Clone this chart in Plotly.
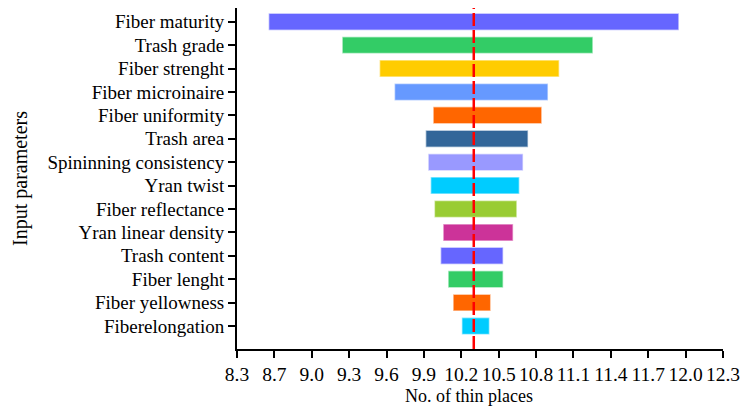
import plotly.graph_objects as go

categories = ["Fiber maturity", "Trash grade", "Fiber strenght", "Fiber microinaire",
              "Fiber uniformity", "Trash area", "Spininning consistency", "Yran twist",
              "Fiber reflectance", "Yran linear density", "Trash content", "Fiber lenght",
              "Fiber yellowness", "Fiberelongation"]
low_values = [8.66, 9.25, 9.55, 9.67, 9.98, 9.92, 9.94, 9.96, 9.99, 10.06, 10.04, 10.10, 10.14, 10.21]
high_values = [11.94, 11.25, 10.98, 10.89, 10.84, 10.73, 10.69, 10.66, 10.64, 10.61, 10.53, 10.53, 10.43, 10.42]
bar_colors = ["#6666FF", "#33CC66", "#FFCC00", "#6699FF", "#FF6600", "#336699", "#9999FF",
              "#00CCFF", "#99CC33", "#CC3399", "#6666FF", "#33CC66", "#FF6600", "#00CCFF"]
base_value = 10.3
tick_values = [8.4, 8.7, 9.0, 9.3, 9.6, 9.9, 10.2, 10.5, 10.8, 11.1, 11.4, 11.7, 12.0, 12.3]
tick_labels = ["8.3", "8.7", "9.0", "9.3", "9.6", "9.9", "10.2", "10.5", "10.8", "11.1",
               "11.4", "11.7", "12.0", "12.3"]
x_title = "No. of thin places"
y_title = "Input parameters"


def hex_rgba(h, a):
    h = h.lstrip("#")
    return "rgba(%d,%d,%d,%s)" % (int(h[0:2], 16), int(h[2:4], 16), int(h[4:6], 16), a)


widths = [h - l for l, h in zip(low_values, high_values)]

fig = go.Figure()
fig.add_trace(go.Bar(
    y=categories, x=widths, base=low_values, orientation="h",
    marker=dict(color=bar_colors,
                line=dict(color=[hex_rgba(c, 0.45) for c in bar_colors], width=1.5)),
    width=0.66, showlegend=False,
))

fig.add_shape(type="line", xref="x", yref="paper", x0=base_value, x1=base_value, y0=0, y1=1,
              line=dict(color="#FF0000", width=2.5, dash="13px,4px"), layer="above")

font_family = "Liberation Serif, Times New Roman, serif"
fig.add_annotation(text=x_title, xref="paper", yref="paper", x=0.478, y=-0.138,
                   xanchor="center", yanchor="middle", showarrow=False,
                   font=dict(family=font_family, size=18, color="black"))

fig.update_layout(
    width=748, height=413,
    margin=dict(l=237, r=19, t=8, b=64),
    paper_bgcolor="white", plot_bgcolor="white",
    font=dict(family=font_family, size=19, color="black"),
)
fig.update_xaxes(
    range=[8.4, 12.3], tickvals=tick_values, ticktext=tick_labels,
    showgrid=False, zeroline=False, showline=True, linecolor="black", linewidth=2,
    ticks="outside", ticklen=7, tickwidth=1.5, tickcolor="black",
    tickfont=dict(size=19.5),
)
fig.update_yaxes(
    categoryorder="array", categoryarray=categories,
    range=[13.98, -0.585],
    showgrid=False, zeroline=False, showline=True, linecolor="black", linewidth=2,
    ticks="outside", ticklen=7, tickwidth=1.5, tickcolor="black",
    tickfont=dict(size=19),
    title=dict(text=y_title, font=dict(size=20), standoff=14),
)

fig.write_html("out.html")
